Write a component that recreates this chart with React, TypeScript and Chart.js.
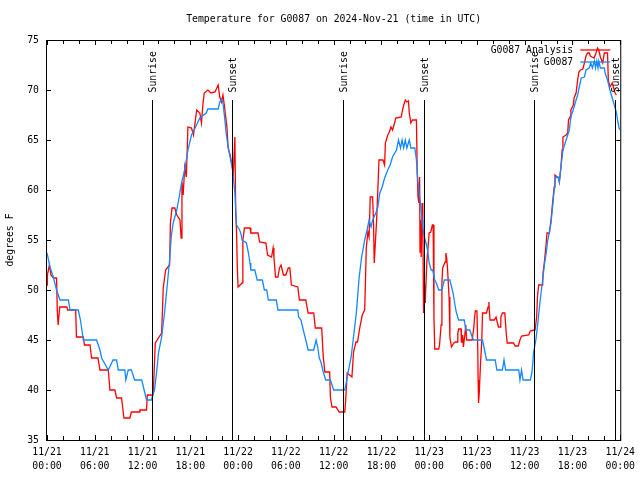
import React, { useEffect, useRef } from "react";
import { Chart, registerables } from "chart.js";
Chart.register(...registerables);

const TITLE = "Temperature for G0087 on 2024-Nov-21 (time in UTC)";
const Y_LABEL = "degrees F";
const X_DATES = ["11/21", "11/21", "11/21", "11/21", "11/22", "11/22", "11/22", "11/22", "11/23", "11/23", "11/23", "11/23", "11/24"];
const X_TIMES = ["00:00", "06:00", "12:00", "18:00", "00:00", "06:00", "12:00", "18:00", "00:00", "06:00", "12:00", "18:00", "00:00"];
const LEGEND_LABELS = ["G0087 Analysis", "G0087"];
const SERIES_COLORS = ["#ff0000", "#1488ff"];

// hours since 11/21 00:00 UTC
const SUN_HOURS = [13.13, 23.25, 37.17, 47.33, 61.15, 71.33];
const SUN_LABELS = ["Sunrise", "Sunset", "Sunrise", "Sunset", "Sunrise", "Sunset"];

const OBS_HOURS = [
  0.0, 0.38, 0.79, 1.2, 1.63, 2.68, 2.9, 3.93, 4.2, 4.56, 6.23, 6.65, 6.86, 7.7, 8.3, 8.74, 8.95, 9.78, 9.9, 10.2,
  10.6, 11.0, 11.9, 12.2, 12.5, 13.1, 13.5, 13.8, 14.0, 14.4, 14.8, 15.2, 15.4, 15.6, 15.85, 16.3, 16.6, 16.9, 17.3, 17.7,
  18.15, 18.6, 19.2, 20.0, 20.2, 21.5, 21.7, 21.9, 22.1, 22.3, 22.5, 22.75, 23.0, 23.3, 23.6, 23.8, 24.2, 24.4, 24.5, 25.05,
  25.3, 25.5, 25.6, 26.1, 26.4, 27.05, 27.3, 27.6, 27.8, 28.8, 29.0, 31.5, 31.6, 31.9, 32.1, 32.5, 32.8, 33.5, 33.8, 34.0,
  34.2, 34.4, 34.7, 35.0, 35.6, 36.0, 37.4, 37.6, 37.8, 38.2, 38.6, 38.85, 39.2, 39.5, 39.9, 40.2, 40.45, 40.7, 40.9, 41.3,
  41.55, 41.8, 42.1, 42.4, 42.8, 43.1, 43.4, 43.9, 44.15, 44.4, 44.6, 44.8, 45.0, 45.2, 45.5, 45.7, 46.2, 46.4, 46.6, 46.75,
  46.9, 47.1, 47.2, 47.4, 47.6, 47.8, 48.0, 48.25, 48.45, 48.7, 48.9, 49.2, 49.6, 49.9, 50.6, 51.0, 51.2, 51.4, 51.7, 52.4,
  52.6, 53.1, 53.4, 53.6, 54.7, 54.9, 55.2, 56.3, 56.5, 57.2, 57.4, 57.6, 59.25, 59.4, 59.6, 59.8, 60.7, 60.9, 61.0, 61.1,
  61.4, 61.65, 61.85, 62.05, 62.25, 62.5, 62.7, 62.9, 63.1, 63.3, 63.5, 63.7, 63.9, 64.2, 64.35, 64.55, 64.8, 65.2, 65.6, 65.8,
  66.2, 66.45, 66.65, 66.85, 67.1, 67.5, 67.7, 68.1, 68.3, 68.5, 68.75, 68.9, 69.05, 69.2, 69.3, 69.5, 70.0, 70.1, 70.4, 70.7,
  70.95, 71.25, 71.5, 71.7, 71.85, 72.0
];
const OBS_TEMPS = [
  53.7, 52.3, 51.3, 50, 49, 49, 48, 48, 47, 45, 45, 44, 43.2, 42, 43, 43, 42, 42, 41, 42,
  42, 41, 41, 40, 39, 39, 40, 42, 43.7, 45.3, 48, 51.3, 53, 55.3, 56.7, 58, 59.3, 60.7, 62, 64,
  65.5, 66.2, 67.2, 67.7, 68.1, 68.1, 68.8, 69.1, 68.7, 67.3, 65.7, 64.3, 63.3, 62, 59.7, 56.5, 56, 55.5, 55, 54.7,
  53.7, 52.7, 52, 52, 51, 51, 50, 50, 49, 49, 48, 48, 47.3, 47, 46.3, 45, 44, 44, 45, 44.3,
  43.2, 42.8, 41.8, 41, 41, 40, 40, 40.8, 41.7, 43.3, 46, 47.7, 51.2, 53.2, 55, 56, 57, 56.3, 57, 57.7,
  58.3, 59.7, 60.3, 61.2, 62, 62.5, 63.3, 64, 65, 64.2, 65, 64.2, 65, 64.2, 65, 64.2, 64.2, 63, 60.7, 59.7,
  58.7, 57, 56.3, 55.3, 54.7, 54, 52.7, 52, 52, 51, 50.7, 50, 50, 51, 51, 49.7, 48.7, 47.8, 47, 47,
  46, 46, 45.3, 45, 45, 44.2, 43, 43, 42, 42, 43, 42, 42, 41, 42, 41, 41, 41.7, 42.5, 43.7,
  45, 46.7, 48.3, 49.7, 51, 52.7, 53.7, 55, 55.8, 56.7, 58.3, 60, 61.3, 61.3, 60.8, 62.3, 64, 65, 66, 67.3,
  68.3, 69, 69.5, 70.3, 71.2, 71.3, 72, 72.2, 72.7, 72.2, 72.9, 72.2, 72.9, 72.2, 72.9, 72.2, 72.2, 71.7, 71, 70,
  69.3, 68.5, 67.8, 66.8, 66.2, 66
];

const ANA_HOURS = [
  0.0, 0.05, 0.3, 0.5, 0.8, 1.2, 1.3, 1.4, 1.6, 2.5, 2.6, 3.6, 3.7, 4.56, 4.7, 5.4, 5.6, 6.4, 6.65, 7.7,
  7.9, 8.53, 8.74, 9.37, 9.66, 10.4, 10.6, 11.6, 11.67, 12.5, 12.6, 13.3, 13.4, 13.6, 14.4, 14.6, 14.9, 15.4, 15.5, 15.7,
  16.05, 16.3, 16.7, 16.85, 16.95, 17.1, 17.3, 17.5, 17.7, 18.15, 18.4, 18.8, 19.2, 19.4, 19.6, 19.75, 20.2, 20.6, 21.1, 21.5,
  21.7, 21.9, 22.1, 22.3, 22.6, 22.75, 23.0, 23.2, 23.4, 23.6, 23.7, 23.8, 23.9, 24.0, 24.5, 24.6, 24.8, 25.5, 25.6, 26.5,
  26.7, 27.5, 27.7, 28.2, 28.4, 28.5, 28.7, 29.0, 29.2, 29.4, 29.7, 30.0, 30.3, 30.5, 30.7, 31.5, 31.7, 32.5, 32.8, 33.5,
  33.7, 34.5, 34.7, 34.9, 35.5, 35.6, 35.8, 36.3, 36.7, 37.4, 37.5, 37.7, 38.3, 38.5, 38.8, 39.0, 39.3, 39.6, 39.9, 40.0,
  40.1, 40.3, 40.45, 40.6, 40.9, 41.0, 41.1, 41.4, 41.55, 41.7, 42.2, 42.4, 42.5, 42.8, 43.0, 43.2, 43.4, 43.65, 43.8, 44.5,
  44.6, 44.8, 45.0, 45.2, 45.4, 45.5, 45.7, 45.9, 46.4, 46.5, 46.6, 46.7, 46.8, 46.85, 46.9, 47.0, 47.1, 47.2, 47.3, 47.4,
  47.5, 47.7, 48.0, 48.2, 48.4, 48.5, 48.6, 48.7, 49.2, 49.3, 49.5, 49.6, 49.7, 50.0, 50.1, 50.2, 50.3, 50.5, 50.6, 50.8,
  51.1, 51.3, 51.5, 51.6, 51.7, 52.0, 52.05, 52.15, 52.2, 52.3, 52.5, 52.6, 52.7, 53.4, 53.6, 53.7, 53.8, 54.0, 54.1, 54.15,
  54.2, 54.3, 54.45, 54.6, 54.7, 55.2, 55.4, 55.5, 55.55, 55.65, 56.2, 56.4, 56.7, 56.9, 57.0, 57.2, 57.5, 57.7, 57.8, 58.6,
  58.8, 59.2, 59.4, 59.6, 60.5, 60.7, 61.2, 61.3, 61.5, 61.6, 61.75, 62.25, 62.3, 62.5, 62.7, 62.8, 63.1, 63.3, 63.5, 63.7,
  63.8, 64.05, 64.25, 64.35, 64.55, 64.7, 64.8, 65.2, 65.4, 65.5, 65.7, 65.8, 66.1, 66.2, 66.45, 66.65, 66.8, 67.0, 67.3, 67.5,
  67.7, 67.9, 68.1, 68.25, 68.45, 68.7, 68.95, 69.15, 69.3, 69.5, 69.8, 70.0, 70.4, 70.5, 70.7, 71.0, 71.3, 71.5
];
const ANA_TEMPS = [
  50.5, 51.5, 52.5, 51.5, 51.2, 51.2, 47.8, 46.5, 48.3, 48.3, 48, 48, 45.3, 45.3, 44.5, 44.5, 43.2, 43.2, 42, 42,
  40, 40, 39.2, 39.2, 37.2, 37.2, 37.8, 37.8, 38, 38, 39.5, 39.5, 40.7, 44.7, 45.7, 50.2, 52, 52.5, 56.7, 58.2,
  58.2, 57.5, 57, 55.2, 60.8, 59.5, 62.3, 61.3, 66.3, 66.2, 65.5, 68, 67.7, 66.7, 68.7, 69.7, 70, 69.7, 69.8, 70.5,
  69.3, 68.8, 69.5, 68.3, 66.3, 64.2, 63.5, 62.7, 61.7, 65.3, 57.7, 56, 52.3, 50.3, 50.7, 55, 56.2, 56.2, 55.7, 55.7,
  54.8, 54.7, 53.5, 53.3, 54.2, 53.3, 51.3, 51.3, 52.2, 52.5, 51.5, 51.5, 52.2, 52.2, 50.5, 50.3, 49, 49, 47.7, 47.7,
  46.2, 46.2, 43.3, 41.8, 41.8, 39.2, 38.3, 38.3, 37.8, 37.8, 38.8, 41.7, 41.3, 43.8, 44.8, 44.8, 46.3, 47.5, 48, 51,
  54.2, 55.8, 55.3, 59.3, 59.3, 57, 52.7, 57, 60, 63, 63, 62.5, 64.7, 65.5, 65.8, 66.3, 66, 66.7, 67.2, 67.3,
  67.8, 68.5, 69, 68.8, 68.9, 67.7, 66.7, 67, 67, 61.7, 59.3, 58.7, 61.3, 53.8, 57, 53.3, 58.7, 56.7, 47.7, 50.7,
  48.7, 52.7, 55.7, 55.8, 56.5, 56.5, 47.3, 44.1, 44.1, 44.5, 46.5, 50.7, 52.2, 52.8, 53.7, 53.2, 52.2, 49.3, 45.3, 44.3,
  44.7, 44.8, 44.8, 45.7, 46.1, 46.1, 44.8, 44.8, 45.5, 44.3, 45.7, 46.5, 45, 45, 46.2, 47.2, 47.9, 47.9, 44.3, 41,
  38.7, 39.8, 42.7, 44.7, 47.7, 47.7, 48.3, 48.8, 48, 47, 47, 47.3, 46.3, 46.3, 47.3, 47.7, 47.7, 45.5, 44.7, 44.7,
  44.4, 44.4, 45, 45.4, 45.5, 45.9, 46, 46, 47.3, 49.3, 50.5, 50.5, 51.7, 53, 54.7, 55.7, 55.7, 57, 58.7, 60.3,
  61.5, 61.3, 61.2, 60.8, 62.3, 64, 65.3, 65.5, 65.7, 67, 67.3, 68, 68.5, 69.2, 69.7, 71, 71.8, 72, 72.1, 72.7,
  73.4, 73.7, 73.7, 73.4, 73.3, 73.2, 73.7, 74.2, 74, 73.3, 72.7, 73.7, 73.7, 71, 70.3, 70.7, 69.8, 69.5
];

const FONT_FAMILY = '"DejaVu Sans Mono", "Liberation Mono", monospace';
const FONT = `9.8px ${FONT_FAMILY}`;

const overlayPlugin = {
  id: "overlay",
  afterDraw(chart: any) {
    const { ctx, chartArea: a, scales } = chart;
    const x = scales.x;
    const y = scales.y;
    ctx.save();
    ctx.fillStyle = "#000";
    ctx.strokeStyle = "#000";
    ctx.lineWidth = 1;
    ctx.font = FONT;

    // frame
    ctx.strokeRect(a.left - 0.5, a.top + 0.5, a.right - a.left + 1, a.bottom - a.top);

    // x ticks (inward) every 2h, major every 6h
    for (let h = 0; h <= 72; h += 2) {
      const px = Math.round(x.getPixelForValue(h)) + 0.5;
      const len = h % 6 === 0 ? 5 : 4;
      ctx.beginPath();
      ctx.moveTo(px, a.bottom);
      ctx.lineTo(px, a.bottom - len);
      ctx.moveTo(px, a.top);
      ctx.lineTo(px, a.top + len);
      ctx.stroke();
    }
    // y ticks (inward)
    for (let v = 35; v <= 75; v += 5) {
      const py = Math.round(y.getPixelForValue(v)) + 0.5;
      ctx.beginPath();
      ctx.moveTo(a.left, py);
      ctx.lineTo(a.left + 4, py);
      ctx.moveTo(a.right, py);
      ctx.lineTo(a.right - 4, py);
      ctx.stroke();
    }

    // sunrise / sunset markers
    SUN_HOURS.forEach((h, i) => {
      const px = Math.round(x.getPixelForValue(h)) + 0.5;
      ctx.beginPath();
      ctx.moveTo(px, a.top + 60);
      ctx.lineTo(px, a.bottom);
      ctx.stroke();
      ctx.save();
      ctx.translate(px + 0.5, a.top + 52.5);
      ctx.rotate(-Math.PI / 2);
      ctx.textAlign = "left";
      ctx.textBaseline = "middle";
      ctx.fillText(SUN_LABELS[i], 0, 0);
      ctx.restore();
    });

    // legend
    ctx.textAlign = "right";
    ctx.textBaseline = "middle";
    LEGEND_LABELS.forEach((lab, i) => {
      const ly = a.top + 10 + i * 12;
      ctx.fillStyle = "#000";
      ctx.fillText(lab, a.right - 47, ly);
      ctx.strokeStyle = SERIES_COLORS[i];
      ctx.lineWidth = 1.3;
      ctx.beginPath();
      ctx.moveTo(a.right - 40, ly);
      ctx.lineTo(a.right - 10, ly);
      ctx.stroke();
    });

    // title
    ctx.fillStyle = "#000";
    ctx.textAlign = "center";
    ctx.textBaseline = "middle";
    ctx.fillText(TITLE, (a.left + a.right) / 2, 19);

    // y label
    ctx.save();
    ctx.translate(10, (a.top + a.bottom) / 2);
    ctx.rotate(-Math.PI / 2);
    ctx.textAlign = "center";
    ctx.textBaseline = "middle";
    ctx.fillText(Y_LABEL, 0, 0);
    ctx.restore();

    ctx.restore();
  },
};

export default function App() {
  const canvasRef = useRef<HTMLCanvasElement | null>(null);

  useEffect(() => {
    const canvas = canvasRef.current;
    if (!canvas) return;
    const toPoints = (hs: number[], ts: number[]) => hs.map((h, i) => ({ x: h, y: ts[i] }));
    const chart = new Chart(canvas, {
      type: "line",
      data: {
        datasets: [
          {
            label: LEGEND_LABELS[1],
            data: toPoints(OBS_HOURS, OBS_TEMPS),
            borderColor: SERIES_COLORS[1],
            borderWidth: 1.3,
            pointRadius: 0,
            tension: 0,
            fill: false,
          },
          {
            label: LEGEND_LABELS[0],
            data: toPoints(ANA_HOURS, ANA_TEMPS),
            borderColor: SERIES_COLORS[0],
            borderWidth: 1.3,
            pointRadius: 0,
            tension: 0,
            fill: false,
          },
        ],
      },
      options: {
        responsive: false,
        animation: false,
        devicePixelRatio: 1,
        layout: { padding: { top: 40, right: 19, left: 0, bottom: 0 } },
        plugins: {
          legend: { display: false },
          title: { display: false },
          tooltip: { enabled: false },
        },
        scales: {
          x: {
            type: "linear",
            min: 0,
            max: 72,
            grid: { display: false, drawTicks: false },
            border: { display: false },
            afterFit: (s: any) => {
              s.height = 40;
            },
            ticks: {
              stepSize: 6,
              autoSkip: false,
              maxRotation: 0,
              padding: 5,
              color: "#000",
              font: { family: FONT_FAMILY, size: 9.8, lineHeight: 1.45 },
              callback: (v: any) => {
                const i = Math.round(Number(v) / 6);
                return [X_DATES[i], X_TIMES[i]];
              },
            },
          },
          y: {
            type: "linear",
            min: 35,
            max: 75,
            grid: { display: false, drawTicks: false },
            border: { display: false },
            afterFit: (s: any) => {
              s.width = 47;
            },
            ticks: {
              stepSize: 5,
              padding: 8,
              color: "#000",
              font: { family: FONT_FAMILY, size: 9.8 },
            },
          },
        },
      },
      plugins: [overlayPlugin],
    });
    return () => chart.destroy();
  }, []);

  return (
    <div style={{ position: "absolute", left: 0, top: 0, width: 640, height: 480, background: "#fff" }}>
      <canvas ref={canvasRef} width={640} height={480} style={{ display: "block" }} />
    </div>
  );
}
